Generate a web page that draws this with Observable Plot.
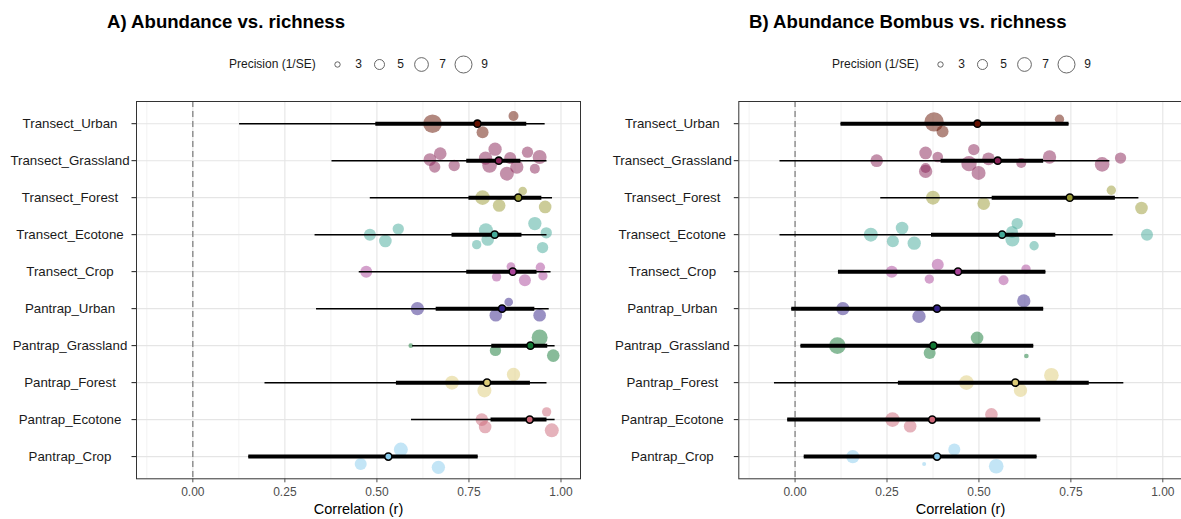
<!DOCTYPE html>
<html><head><meta charset="utf-8">
<script src="https://cdn.jsdelivr.net/npm/d3@7"></script>
<script src="https://cdn.jsdelivr.net/npm/@observablehq/plot@0.6"></script>
<style>
html,body{margin:0;padding:0;background:#fff;}
body{width:1181px;height:519px;overflow:hidden;position:relative;font-family:"Liberation Sans",Arial,sans-serif;}
.abs{position:absolute;}
.title{font-weight:bold;font-size:18.6px;line-height:1;white-space:nowrap;color:#000;}
.legtitle{font-size:12px;line-height:1;white-space:nowrap;color:#1a1a1a;}
svg{display:block;}
</style></head><body>
<script>
const FONT = '"Liberation Sans", Arial, sans-serif';
const categories = ["Transect_Urban","Transect_Grassland","Transect_Forest","Transect_Ecotone","Transect_Crop","Pantrap_Urban","Pantrap_Grassland","Pantrap_Forest","Pantrap_Ecotone","Pantrap_Crop"];
const palette = ["#661100","#882255","#999933","#44AA99","#AA4499","#332288","#117733","#DDCC77","#CC6677","#88CCEE"];
const majorTicks = [0, 0.25, 0.5, 0.75, 1];
const minorTicks = [-0.125, 0.125, 0.375, 0.625, 0.875];
const legendValues = [3, 5, 7, 9];
const titleA = "A) Abundance vs. richness";
const titleB = "B) Abundance Bombus vs. richness";
const xLabel = "Correlation (r)";
const legendLabel = "Precision (1/SE)";

// Panel A: summary estimates
const meanA = [0.773, 0.831, 0.884, 0.820, 0.869, 0.840, 0.917, 0.799, 0.915, 0.531];
const lo95A = [0.127, 0.378, 0.482, 0.332, 0.452, 0.336, 0.597, 0.196, 0.594, 0.152];
const hi95A = [0.957, 0.962, 0.977, 0.962, 0.973, 0.968, 0.984, 0.962, 0.984, 0.775];
const lo50A = [0.497, 0.744, 0.750, 0.704, 0.744, 0.661, 0.812, 0.553, 0.810, 0.152];
const hi50A = [0.907, 0.891, 0.948, 0.894, 0.935, 0.929, 0.964, 0.917, 0.962, 0.775];
// Panel A: individual studies
const studyRowA = [0,0,0, 1,1,1,1,1,1,1,1,1,1,1,1,1, 2,2,2,2, 3,3,3,3,3,3,3,3,3, 4,4,4,4,4,4, 5,5,5,5, 6,6,6,6, 7,7,7, 8,8,8,8, 9,9,9];
const studyRA = [0.651,0.871,0.787, 0.644,0.672,0.657,0.710,0.795,0.821,0.806,0.862,0.853,0.880,0.909,0.942,0.929, 0.787,0.832,0.896,0.957, 0.481,0.523,0.558,0.796,0.801,0.771,0.929,0.960,0.950, 0.471,0.864,0.825,0.902,0.944,0.951, 0.610,0.858,0.823,0.942, 0.592,0.822,0.942,0.979, 0.704,0.792,0.871, 0.785,0.794,0.961,0.975, 0.565,0.456,0.667];
const studyPrecA = [10.1,4.99,6.02, 6.36,6.36,5.66,5.66,6.74,6.74,7.51,6.02,7.14,6.74,5.66,7.14,4.99, 7.51,6.36,4.36,6.36, 6.02,6.36,5.66,7.14,6.36,4.68,6.74,5.66,5.66, 6.02,4.36,4.68,6.02,4.68,4.68, 6.74,4.36,6.36,6.36, 2.72,5.66,8.35,6.36, 7.14,7.14,6.74, 6.36,6.36,4.68,7.14, 7.14,6.02,6.74];
const studyJitA = [0,-0.21,0.23, -0.03,-0.19,0.17,0.13,-0.07,-0.31,0.13,-0.07,0.35,0.17,-0.23,-0.10,0.22, 0,0.21,-0.18,0.25, 0,0.17,-0.15,-0.12,0.13,0.27,-0.30,-0.05,0.35, 0,-0.14,0.14,0.23,-0.12,0.11, 0,-0.18,0.18,0.18, 0,0.13,-0.22,0.27, 0,0.21,-0.22, 0,0.2,-0.21,0.29, -0.19,0.2,0.29];

// Panel B: summary estimates
const meanB = [0.496, 0.551, 0.747, 0.563, 0.443, 0.386, 0.376, 0.599, 0.373, 0.386];
const lo95B = [0.125, -0.041, 0.233, -0.041, 0.118, -0.009, 0.016, -0.056, -0.020, 0.025];
const hi95B = [0.745, 0.856, 0.935, 0.865, 0.682, 0.676, 0.649, 0.894, 0.668, 0.658];
const lo50B = [0.125, 0.397, 0.536, 0.371, 0.118, -0.009, 0.016, 0.281, -0.020, 0.025];
const hi50B = [0.745, 0.676, 0.871, 0.709, 0.682, 0.676, 0.649, 0.800, 0.668, 0.658];
// Panel B: individual studies
const studyRowB = [0,0,0, 1,1,1,1,1,1,1,1,1,1,1,1,1, 2,2,2,2, 3,3,3,3,3,3,3,3,3, 4,4,4,4,4, 5,5,5, 6,6,6,6, 7,7,7, 8,8,8, 9,9,9,9];
const studyRB = [0.378,0.401,0.719, 0.222,0.355,0.355,0.355,0.388,0.486,0.473,0.499,0.526,0.615,0.692,0.835,0.885, 0.375,0.513,0.860,0.942, 0.206,0.291,0.266,0.324,0.604,0.590,0.591,0.650,0.957, 0.263,0.388,0.365,0.567,0.628, 0.130,0.337,0.622, 0.115,0.366,0.495,0.629, 0.466,0.613,0.697, 0.265,0.313,0.534, 0.157,0.433,0.351,0.547];
const studyPrecB = [10.6,6.02,4.68, 6.36,6.36,6.74,4.99,5.31,5.66,7.93,7.14,6.36,4.99,6.74,7.51,5.66, 7.14,6.36,4.68,6.36, 7.14,6.36,6.02,6.74,5.66,6.02,7.14,4.68,6.02, 6.02,6.02,4.68,4.99,4.68, 6.74,6.74,6.74, 8.77,6.02,6.36,2.72, 7.51,6.74,7.51, 7.51,6.36,6.36, 6.74,6.02,2.49,7.51];
const studyJitB = [-0.05,0.21,-0.12, 0,-0.21,0.29,0.20,-0.10,-0.30,0.08,0.33,-0.05,0.06,-0.10,0.10,-0.07, 0,0.16,-0.2,0.28, 0,-0.18,0.18,0.23,-0.30,-0.07,0.13,0.30,0, 0,-0.19,0.2,0.23,-0.07, 0,0.21,-0.21, 0,0.2,-0.21,0.28, 0,0.21,-0.2, 0,0.18,-0.14, 0,-0.19,0.2,0.26];

const xDomain = [-0.153, 1.053];
const sizeScale = {type: "sqrt", domain: [3, 9], range: [2.7, 8.5]};
const rowIdx = categories.map((c, i) => i);

function panel(mean, lo95, hi95, lo50, hi50, sRow, sR, sPrec, sJit, o) {
  const rows = categories.map((c, i) => ({i, cat: c, mean: mean[i], lo95: lo95[i], hi95: hi95[i], lo50: lo50[i], hi50: hi50[i]}));
  const studies = sRow.map((row, k) => ({cat: categories[row], y: row + sJit[k], r: sR[k], prec: sPrec[k]}));
  return Plot.plot({
    width: o.width, height: 429, marginLeft: o.ml, marginRight: o.mr, marginTop: 11, marginBottom: 40.7,
    style: {fontFamily: FONT, fontSize: "13px", background: "transparent", overflow: "visible"},
    x: {domain: xDomain},
    y: {domain: [-0.6, 9.6], reverse: true},
    r: sizeScale,
    color: {domain: categories, range: palette},
    marks: [
      Plot.gridX(minorTicks, {stroke: "#ededed", strokeOpacity: 1, strokeWidth: 0.7}),
      Plot.gridX(majorTicks, {stroke: "#e5e5e5", strokeOpacity: 1, strokeWidth: 1.1}),
      Plot.gridY(rowIdx, {stroke: "#e5e5e5", strokeOpacity: 1, strokeWidth: 1.1}),
      Plot.ruleX([0], {stroke: "#7a7a7a", strokeWidth: 1.2, strokeDasharray: "6,4"}),
      Plot.dot(studies, {x: "r", y: "y", r: "prec", fill: "cat", fillOpacity: 0.5}),
      Plot.ruleY(rows, {y: "i", x1: "lo95", x2: "hi95", stroke: "black", strokeWidth: 1.5}),
      Plot.ruleY(rows, {y: "i", x1: "lo50", x2: "hi50", stroke: "black", strokeWidth: 4}),
      Plot.dot(rows, {x: "mean", y: "i", r: 3.6, fill: "cat", stroke: "black", strokeWidth: 1.6}),
      Plot.frame({stroke: "#333", strokeWidth: 1}),
      Plot.axisX(majorTicks, {tickFormat: d3.format(".2f"), tickSize: 4, tickPadding: 5, fontSize: 12, color: "#4d4d4d", label: null}),
      Plot.axisY(rowIdx, {tickFormat: i => categories[i], tickSize: 4.5, tickPadding: 62, textAnchor: "middle", fontSize: 13.3, color: "#1a1a1a", label: null}),
      Plot.text([xLabel], {text: d => d, frameAnchor: "bottom", lineAnchor: "middle", dy: 31, fontSize: 14.5, fill: "#000"})
    ]
  });
}

function sizeLegend() {
  return Plot.plot({
    width: 180, height: 30, margin: 0,
    style: {fontFamily: FONT, fontSize: "12px", background: "transparent", overflow: "visible"},
    x: {type: "point", domain: legendValues, range: [15, 141.5], padding: 0, axis: null},
    r: sizeScale,
    marks: [
      Plot.dot(legendValues, {x: d => d, r: d => d, stroke: "#555", strokeWidth: 0.9, fill: "white"}),
      Plot.text(legendValues, {x: d => d, text: d => String(d), dx: 21, fontSize: 12, fill: "#1a1a1a"})
    ]
  });
}

function place(el, left, top) {
  el.classList.add("abs");
  el.style.left = left + "px";
  el.style.top = top + "px";
  document.body.appendChild(el);
  return el;
}
function div(cls, text) { const d = document.createElement("div"); d.className = cls; d.textContent = text; return d; }

// Panel A
place(div("title", titleA), 107, 12.9);
place(div("legtitle", legendLabel), 229, 57.6);
place(sizeLegend(), 322, 48.5);
place(panel(meanA, lo95A, hi95A, lo50A, hi50A, studyRowA, studyRA, studyPrecA, studyJitA, {width: 590, ml: 136, mr: 10}), 0, 90);

// Panel B
place(div("title", titleB), 749, 12.9);
place(div("legtitle", legendLabel), 832, 57.6);
place(sizeLegend(), 925, 48.5);
place(panel(meanB, lo95B, hi95B, lo50B, hi50B, studyRowB, studyRB, studyPrecB, studyJitB, {width: 590, ml: 138.3, mr: 8.2}), 600, 90);
</script></body></html>
